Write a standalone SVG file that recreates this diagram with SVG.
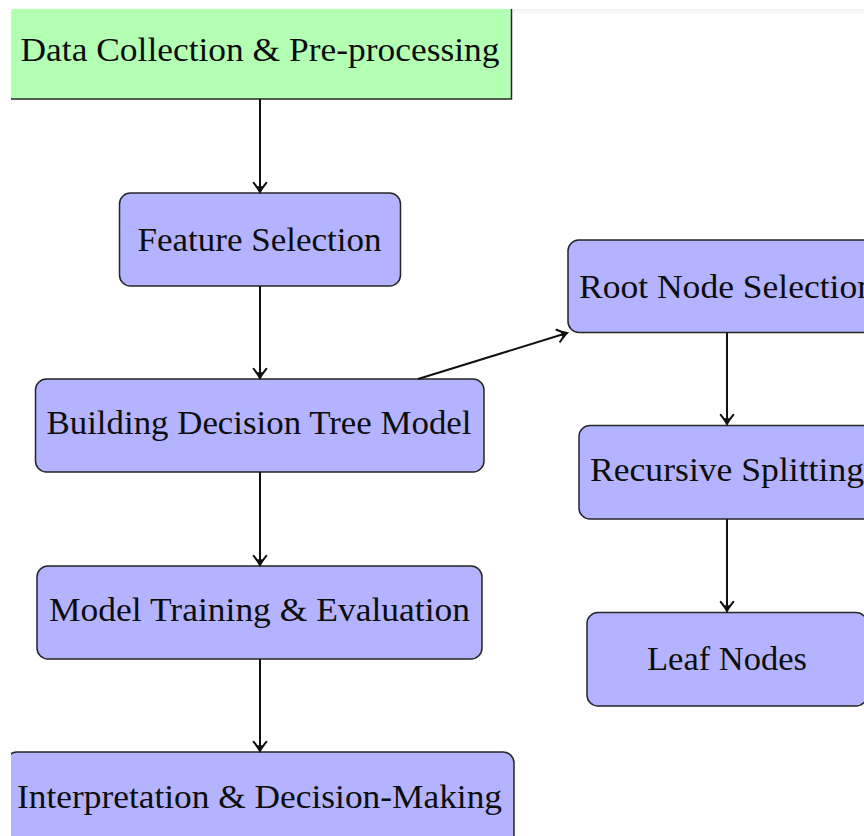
<svg xmlns="http://www.w3.org/2000/svg" width="864" height="836" viewBox="0 0 864 836">
  <style>
    .box { stroke: #262626; stroke-width: 1.5; }
    .start { fill: #b3ffb3; }
    .step { fill: #b3b3ff; }
    .label { font-family: "Liberation Serif", "Times New Roman", serif; font-size: 33px; fill: #0d0d0d; text-anchor: middle; }
    .edge { stroke: #111; stroke-width: 2; fill: none; marker-end: url(#tip); }
  </style>
  <defs>
    <marker id="tip" markerUnits="userSpaceOnUse" markerWidth="16" markerHeight="16" viewBox="-10 -7 12 14" refX="0" refY="0" orient="auto">
      <path d="M -8,-5.5 Q -3,-1.5 0,0 Q -3,1.5 -8,5.5" fill="none" stroke="#111" stroke-width="1.8" stroke-linecap="round"/>
      <path d="M -5,-2.6 L 0,0 L -5,2.6 Z" fill="#111"/>
    </marker>
    <linearGradient id="haze" x1="0" y1="0" x2="0" y2="1">
      <stop offset="0" stop-color="#f2f2f2"/>
      <stop offset="1" stop-color="#ffffff"/>
    </linearGradient>
  </defs>

  <rect width="864" height="836" fill="#ffffff"/>

  <g id="node-data">
    <rect class="box start" x="6" y="2" width="505.5" height="97"/>
    <text class="label" x="260" y="61" textLength="479" lengthAdjust="spacingAndGlyphs">Data Collection &amp; Pre-processing</text>
  </g>

  <g id="node-feature">
    <rect class="box step" x="119.5" y="193" width="281" height="93" rx="11"/>
    <text class="label" x="259.5" y="251" textLength="244" lengthAdjust="spacingAndGlyphs">Feature Selection</text>
  </g>

  <g id="node-building">
    <rect class="box step" x="35.5" y="379" width="448.5" height="93" rx="11"/>
    <text class="label" x="259" y="434" textLength="425" lengthAdjust="spacingAndGlyphs">Building Decision Tree Model</text>
  </g>

  <g id="node-training">
    <rect class="box step" x="37" y="566" width="445" height="93" rx="11"/>
    <text class="label" x="259.5" y="621" textLength="421" lengthAdjust="spacingAndGlyphs">Model Training &amp; Evaluation</text>
  </g>

  <g id="node-interpretation">
    <rect class="box step" x="6" y="752" width="508" height="100" rx="11"/>
    <text class="label" x="259.5" y="808" textLength="485" lengthAdjust="spacingAndGlyphs">Interpretation &amp; Decision-Making</text>
  </g>

  <g id="node-root">
    <rect class="box step" x="568" y="240" width="318" height="92.5" rx="11"/>
    <text class="label" x="727" y="298" textLength="296" lengthAdjust="spacingAndGlyphs">Root Node Selection</text>
  </g>

  <g id="node-recursive">
    <rect class="box step" x="579" y="425.5" width="296" height="93.5" rx="11"/>
    <text class="label" x="727" y="481" textLength="274" lengthAdjust="spacingAndGlyphs">Recursive Splitting</text>
  </g>

  <g id="node-leaf">
    <rect class="box step" x="587" y="612.5" width="280" height="93.5" rx="11"/>
    <text class="label" x="727" y="670" textLength="160" lengthAdjust="spacingAndGlyphs">Leaf Nodes</text>
  </g>

  <g id="connectors">
    <line class="edge" x1="260" y1="99" x2="260" y2="192"/>
    <line class="edge" x1="260" y1="286" x2="260" y2="378"/>
    <line class="edge" x1="260" y1="472" x2="260" y2="565"/>
    <line class="edge" x1="260" y1="659" x2="260" y2="751"/>
    <line class="edge" x1="418" y1="379" x2="567" y2="333"/>
    <line class="edge" x1="727" y1="333" x2="727" y2="424"/>
    <line class="edge" x1="727" y1="519" x2="727" y2="611"/>
  </g>

  <!-- page margin: white border on the left and top, faint shade along the top edge -->
  <rect x="0" y="0" width="11" height="836" fill="#ffffff"/>
  <rect x="0" y="0" width="864" height="9" fill="#ffffff"/>
  <rect x="513" y="9" width="351" height="6" fill="url(#haze)"/>
</svg>
